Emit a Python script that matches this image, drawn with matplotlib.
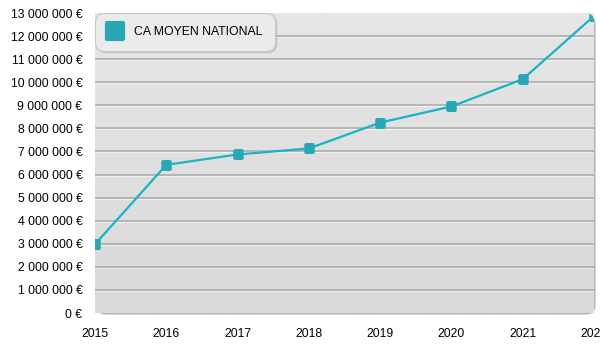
"""
plot.py
-------
CA moyen national par année (2015-2022), courbe sur fond gris arrondi.
"""

import numpy as np
import matplotlib
matplotlib.use("Agg")
import matplotlib.pyplot as plt
import matplotlib.transforms as mtransforms
from matplotlib.patches import FancyBboxPatch
from matplotlib.lines import Line2D
from matplotlib.markers import MarkerStyle
from matplotlib.colors import LinearSegmentedColormap

# ── Data ──────────────────────────────────────────────────────────────────────
YEARS = [2015, 2016, 2017, 2018, 2019, 2020, 2021, 2022]
CA_MOYEN = [2980000, 6420000, 6870000, 7130000, 8250000, 8950000, 10130000, 12870000]
SERIES_LABEL = "CA MOYEN NATIONAL"
Y_TICKS = list(range(0, 13000001, 1000000))

# ── Style ─────────────────────────────────────────────────────────────────────
LINE_COLOR = "#17b4c6"
MARKER_COLOR = "#28a8b4"
GRID_COLOR = "#a9a9a9"
FONT = "Liberation Sans"

plt.rcParams["font.family"] = [FONT, "DejaVu Sans"]

W, H, DPI = 6.0, 3.5, 100
# axes rect in pixels (left, bottom, width, height)
AX_PX = (95, 350 - 313, 499, 300)

fig = plt.figure(figsize=(W, H), dpi=DPI)
fig.patch.set_facecolor("white")
ax = fig.add_axes([AX_PX[0] / 600, AX_PX[1] / 350, AX_PX[2] / 600, AX_PX[3] / 350])
ax.patch.set_visible(False)
for s in ax.spines.values():
    s.set_visible(False)

# ── Rounded gradient background ──────────────────────────────────────────────
x0, y0 = AX_PX[0] / DPI, AX_PX[1] / DPI
bw, bh = AX_PX[2] / DPI, AX_PX[3] / DPI
rs = 0.09

shadow = FancyBboxPatch((x0 + 0.015, y0 - 0.015), bw, bh,
                        boxstyle=f"round,pad=0,rounding_size={rs}",
                        transform=fig.dpi_scale_trans, facecolor="#b3b3b3",
                        edgecolor="none", zorder=0.2, clip_on=False)
ax.add_patch(shadow)
bg = FancyBboxPatch((x0, y0), bw, bh,
                    boxstyle=f"round,pad=0,rounding_size={rs}",
                    transform=fig.dpi_scale_trans, facecolor="#e0e0e0",
                    edgecolor="none", zorder=0.3, clip_on=False)
ax.add_patch(bg)

cmap = LinearSegmentedColormap.from_list("bg", ["#d9d9d9", "#e6e6e6"])
grad = np.linspace(0, 1, 256).reshape(-1, 1)
img = ax.imshow(grad, extent=(YEARS[0], YEARS[-1], 0, 13000000), origin="lower",
                aspect="auto", cmap=cmap, zorder=0.4, clip_on=False)
img.set_clip_path(bg)

# ── Grid lines (embossed) ────────────────────────────────────────────────────
hl_trans = mtransforms.offset_copy(ax.transData, fig=fig, x=0, y=-1, units="dots")
for v in Y_TICKS[1:-1]:
    ax.axhline(v, color=GRID_COLOR, lw=1.1, zorder=1)
    ax.plot([YEARS[0], YEARS[-1]], [v, v], color="white", lw=0.8, alpha=0.55,
            transform=hl_trans, zorder=0.9)

# ── Series ───────────────────────────────────────────────────────────────────
mstyle = MarkerStyle("s", joinstyle="round")
line, = ax.plot(YEARS, CA_MOYEN, color=LINE_COLOR, lw=1.6, zorder=3,
                marker=mstyle, markersize=6.0, markerfacecolor=MARKER_COLOR,
                markeredgecolor=MARKER_COLOR, markeredgewidth=1.8)
line.set_clip_path(bg)

# ── Axes ─────────────────────────────────────────────────────────────────────
ax.set_xlim(YEARS[0], YEARS[-1])
ax.set_ylim(0, 13000000)
ax.set_xticks(YEARS)
ax.set_xticklabels([str(y) for y in YEARS])
ax.set_yticks(Y_TICKS)
ax.set_yticklabels([f"{v:,.0f}".replace(",", " ") + " €" for v in Y_TICKS])
ax.tick_params(axis="y", length=0, pad=9, labelsize=8.8, labelcolor="black")
ax.tick_params(axis="x", length=0, pad=11, labelsize=8.8, labelcolor="black")

# ── Legend ───────────────────────────────────────────────────────────────────
handle = Line2D([], [], linestyle="none", marker=MarkerStyle("s", joinstyle="round"),
                markersize=11, markerfacecolor=MARKER_COLOR,
                markeredgecolor=MARKER_COLOR, markeredgewidth=3)
leg = ax.legend([handle], [SERIES_LABEL], loc="upper left", bbox_to_anchor=(0, 1),
                borderaxespad=0, fontsize=8.8, frameon=True, fancybox=True,
                borderpad=1.05, handlelength=1.2, handletextpad=0.9,
                shadow={"color": "#a0a0a0", "alpha": 0.35, "ox": 1.5, "oy": -1.5})
frame = leg.get_frame()
frame.set_boxstyle("round,pad=0,rounding_size=0.75")
frame.set_facecolor("#ebebeb")
frame.set_edgecolor("#c8c8c8")
frame.set_alpha(1.0)
frame.set_linewidth(0.8)
leg.set_zorder(5)

fig.savefig("out.png", dpi=DPI)
